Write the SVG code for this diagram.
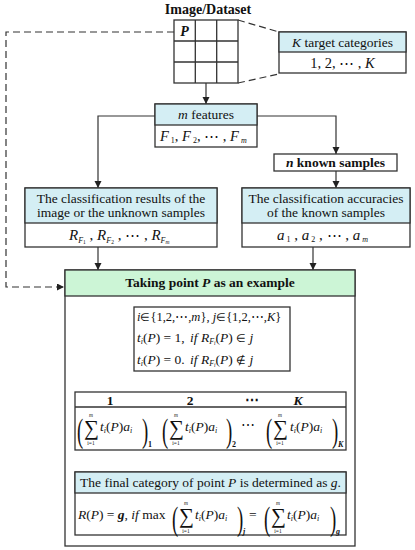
<svg xmlns="http://www.w3.org/2000/svg" width="415" height="550" viewBox="0 0 415 550" font-family="'Liberation Serif', 'Times New Roman', Times, serif">
<style>
text{font-family:'Liberation Serif','Times New Roman',Times,serif;font-size:13.5px;fill:#111}
.c{text-anchor:middle}
.b{font-weight:bold}
.i{font-style:italic}
.box{fill:#fff;stroke:#333;stroke-width:1.3}
.hb{fill:#d4eef4;stroke:#333;stroke-width:1.3}
.hg{fill:#ccf5d6;stroke:#333;stroke-width:1.3}
.ln{fill:none;stroke:#333;stroke-width:1.3}
.ar{fill:none;stroke:#333;stroke-width:1.2;marker-end:url(#ah)}
.ds{fill:none;stroke:#333;stroke-width:1.2;stroke-dasharray:7 4}
.sm{font-size:5.5px}
.sb{font-size:8px}
.sg{font-size:21px}
.pr{font-size:34px}
.op{font-size:11px}
</style>
<defs>
<marker id="ah" markerUnits="userSpaceOnUse" markerWidth="8" markerHeight="8" refX="7" refY="3.5" orient="auto">
<path d="M0,0 L7,3.5 L0,7 z" fill="#222" stroke="none"/>
</marker>
</defs>

<g id="connectors">
<path class="ar" d="M206,83 V104"/>
<path class="ar" d="M155,116 H98 V188"/>
<path class="ar" d="M257,116 H336 V154"/>
<path class="ar" d="M336,171 V188"/>
<path class="ar" d="M98,247 V270"/>
<path class="ar" d="M313,247 V270"/>
<path class="ar" d="M210,371 V392"/>
<path class="ar" d="M210,450 V472"/>
<path class="ds" d="M174,32 H6 V287 H64" marker-end="url(#ah)"/>
<path class="ds" d="M238,20 L279,32"/>
<path class="ds" d="M238,83 L279,74"/>
</g>

<g id="image">
<text class="c b" x="208" y="14" style="font-size:14px">Image/Dataset</text>
<rect class="box" x="174" y="20" width="64" height="63"/>
<path class="ln" d="M195.3,20 V83 M216.7,20 V83 M174,41 H238 M174,62 H238"/>
<text class="c b i" x="184.5" y="35.5" style="font-size:14px">P</text>
</g>

<g id="categories">
<rect class="box" x="279" y="32" width="127" height="41"/>
<rect class="hb" x="279" y="32" width="127" height="20"/>
<text class="c" x="342.5" y="47"><tspan class="i">K</tspan> target categories</text>
<text class="c" x="342.5" y="68" style="font-size:14.5px">1, 2, ⋯ , <tspan class="i">K</tspan></text>
</g>

<g id="features">
<rect class="box" x="155" y="104" width="102" height="43"/>
<rect class="hb" x="155" y="104" width="102" height="21"/>
<text class="c" x="206" y="119"><tspan class="i">m</tspan> features</text>
<text x="160" y="141" style="font-size:14.5px"><tspan class="i">F</tspan><tspan class="sb" dy="2"> 1</tspan><tspan dy="-2">, </tspan><tspan class="i">F</tspan><tspan class="sb" dy="2"> 2</tspan><tspan dy="-2">, ⋯ , </tspan><tspan class="i">F</tspan><tspan class="sb i" dy="2"> m</tspan></text>
</g>

<g id="known">
<rect class="box" x="274" y="154" width="123" height="17"/>
<text class="c b" x="335.5" y="167"><tspan class="i">n</tspan> known samples</text>
</g>

<g id="results">
<rect class="box" x="25" y="188" width="192" height="59"/>
<rect class="hb" x="25" y="188" width="192" height="35"/>
<text class="c" x="121" y="203">The classification results of the</text>
<text class="c" x="121" y="217">image or the unknown samples</text>
<text x="69" y="240" style="font-size:15px"><tspan class="i">R</tspan><tspan class="sb i" dy="3">F</tspan><tspan class="sm" dy="1">1</tspan><tspan dy="-4"> , </tspan><tspan class="i">R</tspan><tspan class="sb i" dy="3">F</tspan><tspan class="sm" dy="1">2</tspan><tspan dy="-4"> , ⋯ , </tspan><tspan class="i">R</tspan><tspan class="sb i" dy="3">F</tspan><tspan class="sm i" dy="1">m</tspan></text>
</g>

<g id="accuracies">
<rect class="box" x="242" y="188" width="168" height="59"/>
<rect class="hb" x="242" y="188" width="168" height="35"/>
<text class="c" x="326" y="203">The classification accuracies</text>
<text class="c" x="326" y="217">of the known samples</text>
<text x="277" y="240" style="font-size:15px"><tspan class="i">a</tspan><tspan class="sb" dy="2"> 1</tspan><tspan dy="-2"> , </tspan><tspan class="i">a</tspan><tspan class="sb" dy="2"> 2</tspan><tspan dy="-2"> , ⋯ , </tspan><tspan class="i">a</tspan><tspan class="sb i" dy="2"> m</tspan></text>
</g>

<g id="example">
<rect class="box" x="65" y="270" width="290" height="276"/>
<rect class="hg" x="65" y="270" width="290" height="26"/>
<text class="c b" x="210" y="287">Taking point <tspan class="i">P</tspan> as an example</text>
</g>

<g id="rules">
<rect class="box" x="134" y="307" width="156" height="64"/>
<text x="137" y="321" style="font-size:12.5px"><tspan class="i">i</tspan><tspan class="op">∈</tspan>{1,2,⋯,<tspan class="i">m</tspan>}, <tspan class="i">j</tspan><tspan class="op">∈</tspan>{1,2,⋯,<tspan class="i">K</tspan>}</text>
<text x="137" y="342"><tspan class="i">t</tspan><tspan class="sb i" dy="2">i</tspan><tspan dy="-2">(</tspan><tspan class="i">P</tspan>) = 1,</text>
<text x="190" y="342"><tspan class="i">if</tspan> <tspan class="i">R</tspan><tspan class="sb i" dy="2">F</tspan><tspan class="sm i" dy="1">i</tspan><tspan dy="-3">(</tspan><tspan class="i">P</tspan>) <tspan class="op">∈</tspan> <tspan class="i">j</tspan></text>
<text x="137" y="364"><tspan class="i">t</tspan><tspan class="sb i" dy="2">i</tspan><tspan dy="-2">(</tspan><tspan class="i">P</tspan>) = 0.</text>
<text x="190" y="364"><tspan class="i">if</tspan> <tspan class="i">R</tspan><tspan class="sb i" dy="2">F</tspan><tspan class="sm i" dy="1">i</tspan><tspan dy="-3">(</tspan><tspan class="i">P</tspan>) <tspan class="op">∉</tspan> <tspan class="i">j</tspan></text>
</g>

<g id="table">
<rect class="box" x="75" y="392" width="271" height="58"/>
<path class="ln" d="M75,407 H346"/>
<text class="c b" x="110" y="405">1</text>
<text class="c b" x="190" y="405">2</text>
<text class="c b" x="252" y="405">⋯</text>
<text class="c b i" x="298" y="405">K</text>
<text x="77" y="442" class="pr" transform="translate(77,0) scale(0.55,1) translate(-77,0)">(</text>
<text x="84" y="435" class="sg">∑</text>
<text x="91" y="417" class="sm i c">m</text>
<text x="91" y="445" class="sm c">i=1</text>
<text x="100" y="431"><tspan class="i">t</tspan><tspan class="sb i" dy="2">i</tspan><tspan dy="-2">(</tspan><tspan class="i">P</tspan>)<tspan class="i">a</tspan><tspan class="sb i" dy="2">i</tspan></text>
<text x="142" y="442" class="pr" transform="translate(142,0) scale(0.55,1) translate(-142,0)">)</text>
<text x="148" y="447" class="sb b">1</text>
<text x="162" y="442" class="pr" transform="translate(162,0) scale(0.55,1) translate(-162,0)">(</text>
<text x="169" y="435" class="sg">∑</text>
<text x="176" y="417" class="sm i c">m</text>
<text x="176" y="445" class="sm c">i=1</text>
<text x="185" y="431"><tspan class="i">t</tspan><tspan class="sb i" dy="2">i</tspan><tspan dy="-2">(</tspan><tspan class="i">P</tspan>)<tspan class="i">a</tspan><tspan class="sb i" dy="2">i</tspan></text>
<text x="226" y="442" class="pr" transform="translate(226,0) scale(0.55,1) translate(-226,0)">)</text>
<text x="232" y="447" class="sb b">2</text>
<text class="c" x="248" y="430">⋯</text>
<text x="266" y="442" class="pr" transform="translate(266,0) scale(0.55,1) translate(-266,0)">(</text>
<text x="273" y="435" class="sg">∑</text>
<text x="280" y="417" class="sm i c">m</text>
<text x="280" y="445" class="sm c">i=1</text>
<text x="290" y="431"><tspan class="i">t</tspan><tspan class="sb i" dy="2">i</tspan><tspan dy="-2">(</tspan><tspan class="i">P</tspan>)<tspan class="i">a</tspan><tspan class="sb i" dy="2">i</tspan></text>
<text x="332" y="442" class="pr" transform="translate(332,0) scale(0.55,1) translate(-332,0)">)</text>
<text x="338" y="447" class="sb b i">K</text>
</g>

<g id="final">
<rect class="box" x="75" y="472" width="271" height="63"/>
<rect class="hb" x="75" y="472" width="271" height="21"/>
<text class="c" x="210.5" y="487">The final category of point <tspan class="i">P</tspan> is determined as <tspan class="i">g</tspan>.</text>
<text x="78" y="519"><tspan class="i">R</tspan>(<tspan class="i">P</tspan>) = <tspan class="i b">g</tspan>,  <tspan class="i">if</tspan>  max</text>
<text x="172" y="530" class="pr" transform="translate(172,0) scale(0.55,1) translate(-172,0)">(</text>
<text x="179" y="523" class="sg">∑</text>
<text x="186" y="505" class="sm i c">m</text>
<text x="186" y="533" class="sm c">i=1</text>
<text x="195" y="519"><tspan class="i">t</tspan><tspan class="sb i" dy="2">i</tspan><tspan dy="-2">(</tspan><tspan class="i">P</tspan>)<tspan class="i">a</tspan><tspan class="sb i" dy="2">i</tspan></text>
<text x="237" y="530" class="pr" transform="translate(237,0) scale(0.55,1) translate(-237,0)">)</text>
<text x="243" y="534" class="sb b i">j</text>
<text x="249" y="519">=</text>
<text x="264" y="530" class="pr" transform="translate(264,0) scale(0.55,1) translate(-264,0)">(</text>
<text x="271" y="523" class="sg">∑</text>
<text x="278" y="505" class="sm i c">m</text>
<text x="278" y="533" class="sm c">i=1</text>
<text x="287" y="519"><tspan class="i">t</tspan><tspan class="sb i" dy="2">i</tspan><tspan dy="-2">(</tspan><tspan class="i">P</tspan>)<tspan class="i">a</tspan><tspan class="sb i" dy="2">i</tspan></text>
<text x="330" y="530" class="pr" transform="translate(330,0) scale(0.55,1) translate(-330,0)">)</text>
<text x="336" y="534" class="sb b i">g</text>
</g>
</svg>
